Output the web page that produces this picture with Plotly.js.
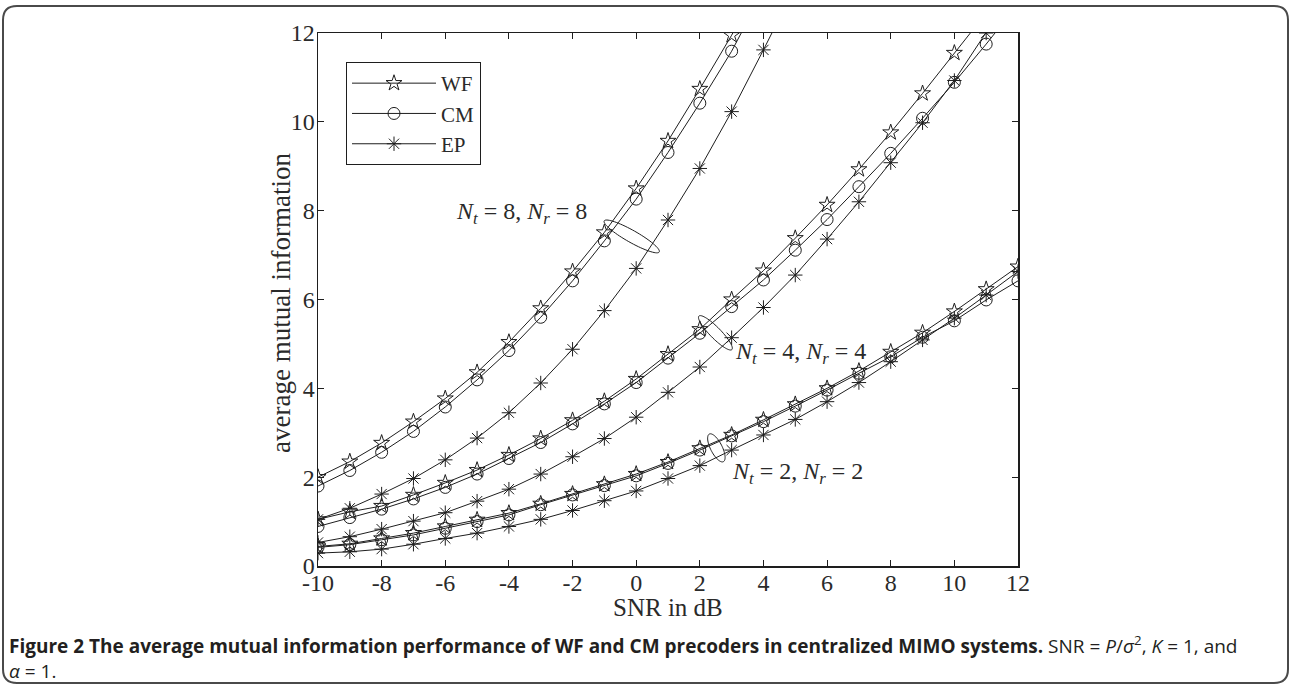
<!DOCTYPE html>
<html>
<head>
<meta charset="utf-8">
<script src="https://cdn.plot.ly/plotly-3.0.1.min.js"></script>
<style>
  html, body { margin: 0; padding: 0; background: #ffffff; }
  #chart { width: 1291px; height: 685px; }
</style>
</head>
<body>
<div id="chart"></div>
<script>
// ---------------- data ----------------
const snr = [-10, -9, -8, -7, -6, -5, -4, -3, -2, -1, 0, 1, 2, 3, 4, 5, 6, 7, 8, 9, 10, 11, 12];

const wf8 = [2.00, 2.35, 2.77, 3.25, 3.77, 4.36, 5.04, 5.80, 6.63, 7.51, 8.50, 9.57, 10.74, 11.95, 13.30, null, null, null, null, null, null, null, null];
const cm8 = [1.80, 2.15, 2.56, 3.03, 3.58, 4.19, 4.85, 5.60, 6.42, 7.32, 8.26, 9.31, 10.42, 11.59, 12.95, null, null, null, null, null, null, null, null];
const ep8 = [1.05, 1.30, 1.62, 1.97, 2.39, 2.88, 3.45, 4.12, 4.88, 5.75, 6.70, 7.79, 8.95, 10.23, 11.62, 13.05, null, null, null, null, null, null, null];

const wf4 = [1.05, 1.22, 1.35, 1.60, 1.87, 2.16, 2.50, 2.87, 3.28, 3.71, 4.21, 4.77, 5.33, 6.00, 6.65, 7.38, 8.13, 8.93, 9.76, 10.64, 11.55, 12.45, null];
const cm4 = [0.89, 1.09, 1.28, 1.51, 1.77, 2.07, 2.42, 2.78, 3.20, 3.65, 4.13, 4.68, 5.24, 5.84, 6.44, 7.11, 7.80, 8.54, 9.29, 10.08, 10.89, 11.75, 12.65];
const ep4 = [0.53, 0.66, 0.83, 1.01, 1.20, 1.46, 1.73, 2.07, 2.46, 2.87, 3.35, 3.91, 4.48, 5.14, 5.82, 6.55, 7.36, 8.20, 9.08, 9.98, 10.93, 12.00, 13.10];

const wf2 = [0.44, 0.50, 0.62, 0.74, 0.89, 1.04, 1.19, 1.40, 1.62, 1.84, 2.07, 2.34, 2.65, 2.95, 3.29, 3.64, 4.00, 4.39, 4.82, 5.25, 5.73, 6.23, 6.74];
const cm2 = [0.42, 0.48, 0.59, 0.70, 0.85, 1.00, 1.15, 1.38, 1.60, 1.81, 2.03, 2.31, 2.61, 2.93, 3.25, 3.60, 3.96, 4.34, 4.71, 5.15, 5.52, 5.99, 6.42];
const ep2 = [0.29, 0.32, 0.38, 0.49, 0.62, 0.74, 0.89, 1.05, 1.25, 1.47, 1.69, 1.97, 2.26, 2.61, 2.95, 3.30, 3.70, 4.13, 4.60, 5.09, 5.58, 6.10, 6.63];

const seriesNames = ['WF', 'CM', 'EP'];
const xTickVals = [-10, -8, -6, -4, -2, 0, 2, 4, 6, 8, 10, 12];
const xTickText = ['-10', '-8', '-6', '-4', '-2', '0', '2', '4', '6', '8', '10', '12'];
const yTickVals = [0, 2, 4, 6, 8, 10, 12];
const yTickText = ['0', '2', '4', '6', '8', '10', '12'];

const xTitle = 'SNR in dB';
const yTitle = 'average mutual information';
const groupLabels = [
  '<i>N</i><sub><i>t</i></sub> = 8, <i>N</i><sub><i>r</i></sub> = 8',
  '<i>N</i><sub><i>t</i></sub> = 4, <i>N</i><sub><i>r</i></sub> = 4',
  '<i>N</i><sub><i>t</i></sub> = 2, <i>N</i><sub><i>r</i></sub> = 2'
];
const captionText = '<b>Figure 2 The average mutual information performance of WF and CM precoders in centralized MIMO systems.</b> SNR = <i>P</i>/<i>σ</i><sup>2</sup>, <i>K</i> = 1, and<br><i>α</i> = 1.';

// ---------------- layout geometry ----------------
const W = 1291, H = 685;
const M = { l: 318, r: 273, t: 33, b: 119 };
const plotW = W - M.l - M.r, plotH = H - M.t - M.b;
const xRange = [-10, 12], yRange = [0, 12];
const pxPerX = plotW / (xRange[1] - xRange[0]);
const pxPerY = plotH / (yRange[1] - yRange[0]);
const paperX = px => (px - M.l) / plotW;
const paperY = py => (M.t + plotH - py) / plotH;

const INK = '#1e1e1e';
const TXT = '#2a2a2a';
const SERIF = '"Liberation Serif", "Times New Roman", serif';

const symbols = { WF: 'star-open', CM: 'circle-open', EP: 'asterisk-open' };

function trace(y, kind, show) {
  return {
    x: snr, y: y, type: 'scatter', mode: 'lines+markers',
    name: kind, showlegend: show, legendgroup: kind,
    line: { color: INK, width: 1 },
    marker: { symbol: symbols[kind], size: 12, color: INK, line: { color: INK, width: 1 } },
    hoverinfo: 'x+y'
  };
}

const data = [
  trace(wf8, seriesNames[0], true), trace(cm8, seriesNames[1], true), trace(ep8, seriesNames[2], true),
  trace(wf4, 'WF', false), trace(cm4, 'CM', false), trace(ep4, 'EP', false),
  trace(wf2, 'WF', false), trace(cm2, 'CM', false), trace(ep2, 'EP', false)
];

// ellipse markers grouping the curves (centre in data units, semi-axes in px, tilt in degrees)
const ellipses = [
  { cx: -0.14, cy: 7.42, a: 31.6, b: 6.0, ang: 29.5 },
  { cx: 2.49, cy: 5.25, a: 23.5, b: 5.5, ang: 45.5 },
  { cx: 2.52, cy: 2.66, a: 15.5, b: 5.8, ang: 63 }
];
function ellipsePath(e) {
  const phi = e.ang * Math.PI / 180;
  let d = '';
  const n = 72;
  for (let i = 0; i <= n; i++) {
    const t = 2 * Math.PI * i / n;
    const dxp = e.a * Math.cos(t) * Math.cos(phi) - e.b * Math.sin(t) * Math.sin(phi);
    const dyp = e.a * Math.cos(t) * Math.sin(phi) + e.b * Math.sin(t) * Math.cos(phi);
    const x = e.cx + dxp / pxPerX;
    const y = e.cy - dyp / pxPerY;
    d += (i === 0 ? 'M' : 'L') + x.toFixed(4) + ',' + y.toFixed(4);
  }
  return d + 'Z';
}

// rounded frame around the whole figure (paper coords)
function framePath(x0, y0, x1, y1, r) {
  const X = paperX, Y = paperY;
  return 'M' + X(x0 + r) + ',' + Y(y0) +
    ' L' + X(x1 - r) + ',' + Y(y0) +
    ' Q' + X(x1) + ',' + Y(y0) + ' ' + X(x1) + ',' + Y(y0 + r) +
    ' L' + X(x1) + ',' + Y(y1 - r) +
    ' Q' + X(x1) + ',' + Y(y1) + ' ' + X(x1 - r) + ',' + Y(y1) +
    ' L' + X(x0 + r) + ',' + Y(y1) +
    ' Q' + X(x0) + ',' + Y(y1) + ' ' + X(x0) + ',' + Y(y1 - r) +
    ' L' + X(x0) + ',' + Y(y0 + r) +
    ' Q' + X(x0) + ',' + Y(y0) + ' ' + X(x0 + r) + ',' + Y(y0) + ' Z';
}

const shapes = ellipses.map(e => ({
  type: 'path', xref: 'x', yref: 'y', path: ellipsePath(e),
  line: { color: INK, width: 1 }, fillcolor: 'rgba(0,0,0,0)'
}));
shapes.push({
  type: 'path', xref: 'paper', yref: 'paper', layer: 'above',
  path: framePath(3, 6, 1288, 683, 14),
  line: { color: '#4a4a4a', width: 2 }, fillcolor: 'rgba(0,0,0,0)'
});

const labelPos = [
  { x: -3.60, y: 7.95 },
  { x: 5.16, y: 4.80 },
  { x: 5.06, y: 2.09 }
];
const annotations = groupLabels.map((t, i) => ({
  x: labelPos[i].x, y: labelPos[i].y, xref: 'x', yref: 'y',
  text: t, showarrow: false, xanchor: 'center', yanchor: 'middle',
  font: { family: SERIF, size: 24, color: TXT }
}));

// axis titles
annotations.push({
  xref: 'paper', yref: 'paper', x: paperX(668), y: paperY(607), xanchor: 'center', yanchor: 'middle',
  showarrow: false, text: xTitle, font: { family: SERIF, size: 25, color: TXT }
});
annotations.push({
  xref: 'paper', yref: 'paper', x: paperX(281), y: paperY(303), xanchor: 'center', yanchor: 'middle',
  showarrow: false, textangle: -90, text: yTitle, font: { family: SERIF, size: 27, color: TXT }
});

// caption
annotations.push({
  xref: 'paper', yref: 'paper', x: paperX(7), y: paperY(657), xanchor: 'left', yanchor: 'middle',
  align: 'left', showarrow: false, text: captionText,
  font: { family: '"Open Sans", "Noto Sans", sans-serif', size: 19, color: '#231f20' }
});

const axisCommon = {
  showgrid: false, zeroline: false,
  showline: true, linecolor: INK, linewidth: 1.5, mirror: 'ticks',
  ticks: 'inside', ticklen: 6, tickwidth: 1, tickcolor: INK,
  tickfont: { family: SERIF, size: 24, color: TXT },
  fixedrange: true, automargin: false
};

const layout = {
  width: W, height: H,
  margin: M,
  paper_bgcolor: '#ffffff', plot_bgcolor: '#ffffff',
  showlegend: true,
  legend: {
    x: paperX(346), y: paperY(62), xanchor: 'left', yanchor: 'top',
    bgcolor: '#ffffff', bordercolor: INK, borderwidth: 1,
    font: { family: SERIF, size: 21, color: TXT },
    itemwidth: 84, tracegroupgap: 0,
    entrywidth: 165, entrywidthmode: 'pixels'
  },
  xaxis: Object.assign({}, axisCommon, {
    range: xRange, tickmode: 'array', tickvals: xTickVals, ticktext: xTickText,
    ticklabelstandoff: -5
  }),
  yaxis: Object.assign({}, axisCommon, {
    range: yRange, tickmode: 'array', tickvals: yTickVals, ticktext: yTickText,
    ticklabelstandoff: -3
  }),
  shapes: shapes,
  annotations: annotations
};

Plotly.newPlot('chart', data, layout, { displayModeBar: false, staticPlot: true });
</script>
</body>
</html>
